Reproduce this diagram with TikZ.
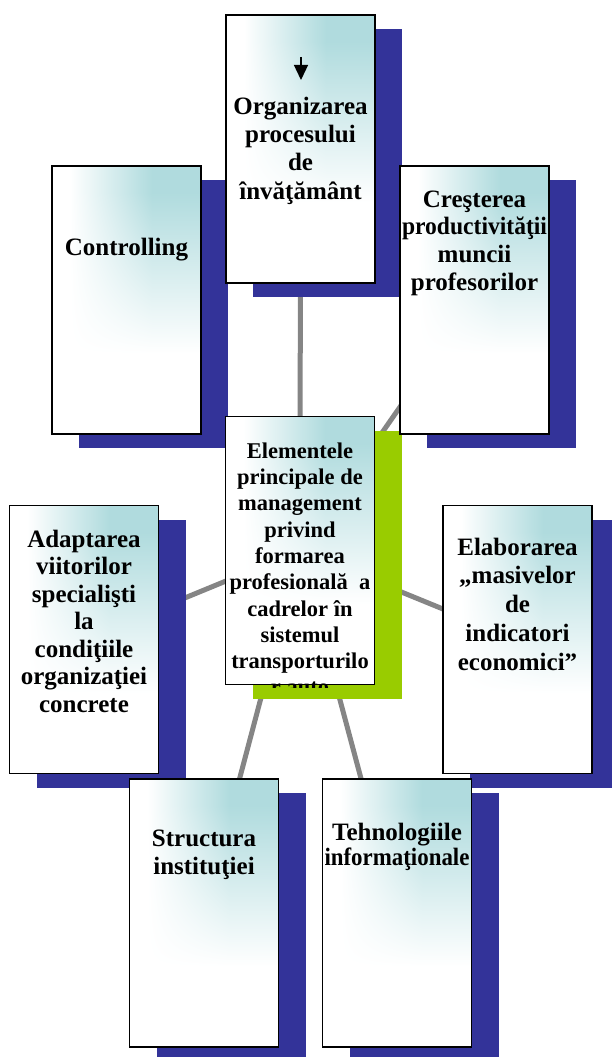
\documentclass[tikz,border=0pt]{standalone}
\usepackage{fontspec}
\setmainfont{Liberation Serif}
\usetikzlibrary{arrows.meta,backgrounds,shadows,calc}
\definecolor{shblue}{HTML}{333399}
\definecolor{shgreen}{HTML}{99CC00}
\definecolor{lngray}{HTML}{858585}
\pgfdeclarefunctionalshading{cornerfade}{\pgfpoint{0bp}{0bp}}{\pgfpoint{100bp}{100bp}}{}{
 25 sub 50 div 0.3 sub 0.6 div dup abs exch 1 sub abs sub 1 add 2 div
 exch 25 sub 50 div 0.12 sub 0.55 div dup abs exch 1 sub abs sub 1 add 2 div
 mul
 dup 0.31 mul 1 exch sub
 exch dup 0.14 mul 1 exch sub
 exch 0.13 mul 1 exch sub
}
\newsavebox\flbox
\newcommand\fl[1]{\sbox\flbox{#1}\ifdim\wd\flbox>145pt\resizebox{145pt}{\height}{#1}\else\usebox\flbox\fi}
\tikzset{
  boxbase/.style={draw=black, line width=1.3pt, minimum width=149pt, minimum height=268pt, inner sep=0pt, shade, shading=cornerfade},
  bluebox/.style={boxbase, drop shadow={shadow xshift=27pt, shadow yshift=-14pt, opacity=1, fill=shblue}},
  greenbox/.style={boxbase, drop shadow={shadow xshift=27pt, shadow yshift=-14pt, opacity=1, fill=shgreen}},
  conn/.style={draw=lngray, line width=5pt},
  txt/.style={font=\bfseries\fontsize{25}{#1}\selectfont, align=center, inner sep=0pt, anchor=north},
  txt/.default=28.3
}
\begin{document}
\begin{tikzpicture}[x=1pt, y=-1pt]
\useasboundingbox (0,0) rectangle (612,1057);
\node[bluebox] (ctrl) at (126.5,300) {};
\node[bluebox] (org) at (300.5,149) {};
\node[greenbox] (ctr) at (300,550.5) {};
\node[bluebox] (cres) at (474.5,300) {};
\node[bluebox] (adapt) at (84,639.5) {};
\node[bluebox] (elab) at (517.5,639.5) {};
\node[bluebox] (struct) at (204,913) {};
\node[bluebox] (tehn) at (397,913) {};
\begin{scope}[on background layer]
\foreach \n in {org,ctrl,cres,adapt,elab,struct,tehn} \draw[conn] (ctr.center) -- (\n.center);
\end{scope}
\coordinate (a1) at (301,57);
\coordinate (a2) at (301,80);
\draw[-{Triangle[width=14pt,length=15pt]}, line width=1.3pt] (a1) -- (a2);
\node[txt] (torg) at (300.5,94) {\rule{0pt}{20pt}Organizarea\\procesului\\de\\învăţământ};
\node[txt] (tctrl) at (126.5,235) {\rule{0pt}{20pt}Controlling};
\node[txt=27.7] (tcres) at (474.5,187) {\rule{0pt}{20pt}Creşterea\\\fl{productivităţii}\\muncii\\profesorilor};
\begin{scope}
\clip (ctr.north west) rectangle ($(ctr.south east)+(0,2)$);
\node[txt, font=\bfseries\fontsize{22.5}{26.3}\selectfont] (tctr) at (300,440) {\rule{0pt}{18pt}Elementele\\principale de\\management\\privind\\formarea\\profesională~ a\\cadrelor în\\sistemul\\transporturilo\\r auto};
\end{scope}
\node[txt=27.5] (tadapt) at (84,527) {\rule{0pt}{20pt}Adaptarea\\viitorilor\\specialişti\\la\\condiţiile\\organizaţiei\\concrete};
\node[txt=28.75] (telab) at (517.5,535) {\rule{0pt}{20pt}Elaborarea\\„masivelor\\de\\indicatori\\economici”};
\node[txt] (tstruct) at (204,826) {\rule{0pt}{20pt}Structura\\instituţiei};
\node[txt=25.5] (ttehn) at (397,820) {\rule{0pt}{20pt}Tehnologiile\\\fl{informaţionale}};
\end{tikzpicture}
\end{document}
